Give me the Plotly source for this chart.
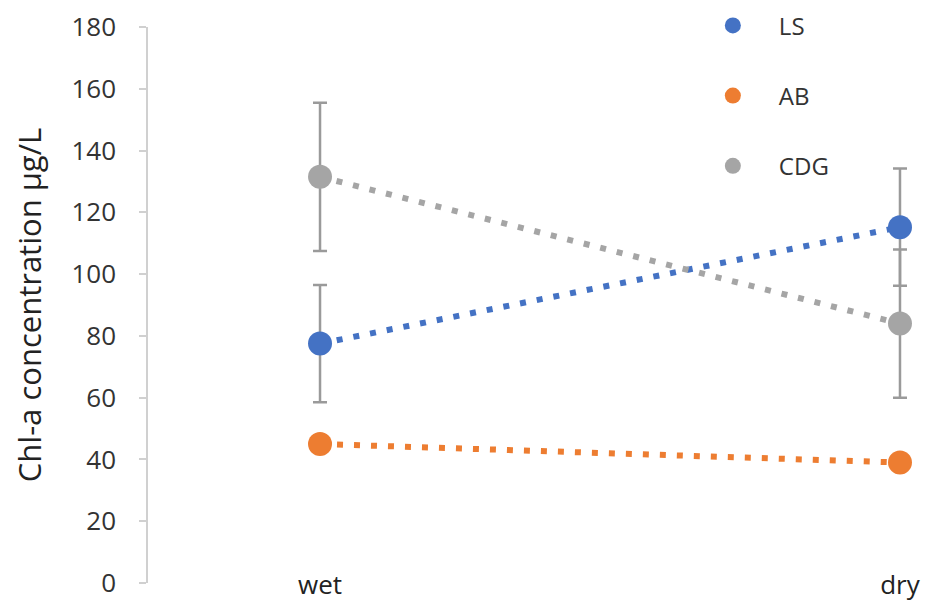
import plotly.graph_objects as go

seasons = ["wet", "dry"]
x_pos = [0, 1]

series_names = ["LS", "AB", "CDG"]
ls_values = [77.5, 115.2]
ab_values = [45.0, 39.0]
cdg_values = [131.5, 84.0]
ls_err = [19.0, 19.0]
ab_err = [0.0, 0.0]
cdg_err = [24.0, 24.0]

colors = {"LS": "#4472C4", "AB": "#ED7D31", "CDG": "#A5A5A5"}
FONT = "Open Sans"

fig = go.Figure()

data = [("LS", ls_values, ls_err), ("AB", ab_values, ab_err), ("CDG", cdg_values, cdg_err)]

for name, vals, errs in data:
    fig.add_trace(go.Scatter(
        x=x_pos, y=vals, mode="lines+markers", name=name, showlegend=False,
        line=dict(color=colors[name], width=6, dash="6px,11px"),
        marker=dict(color=colors[name], size=24),
        error_y=dict(type="data", array=errs, visible=any(e > 0 for e in errs),
                     color="#9a9a9a", thickness=2.5, width=7),
        cliponaxis=False,
    ))

for name, vals, errs in data:
    fig.add_trace(go.Scatter(
        x=[None], y=[None], mode="markers", name=name, legendgroup=name,
        marker=dict(color=colors[name], size=16),
    ))

fig.update_layout(
    width=921, height=593,
    margin=dict(l=140, r=9, t=19, b=18, autoexpand=False),
    paper_bgcolor="white", plot_bgcolor="white",
    font=dict(family=FONT, color="#333333"),
    showlegend=True,
    legend=dict(
        x=0.698, y=1.0426, xanchor="left", yanchor="top",
        font=dict(family=FONT, size=24, color="#333333"),
        traceorder="grouped", tracegroupgap=36, itemwidth=82,
        bgcolor="rgba(0,0,0,0)",
    ),
    xaxis=dict(
        range=[-0.2966, 1.0345], tickmode="array", tickvals=x_pos, ticktext=seasons,
        showline=False, showgrid=False, zeroline=False, ticks="",
        tickfont=dict(family=FONT, size=26, color="#222222"),
        ticklabelstandoff=-16, automargin=False,
    ),
    yaxis=dict(
        range=[0, 180], dtick=20, tick0=0,
        showline=True, linecolor="#d0d0d0", linewidth=1.5,
        ticks="outside", ticklen=7, tickcolor="#d0d0d0", tickwidth=1.5,
        showgrid=False, zeroline=False,
        tickfont=dict(family=FONT, size=26, color="#333333"),
        ticklabelstandoff=18, automargin=False,
        title=dict(text="Chl-a concentration μg/L", standoff=38,
                   font=dict(family=FONT, size=31, color="#222222")),
    ),
)

fig.write_html("out.html")
